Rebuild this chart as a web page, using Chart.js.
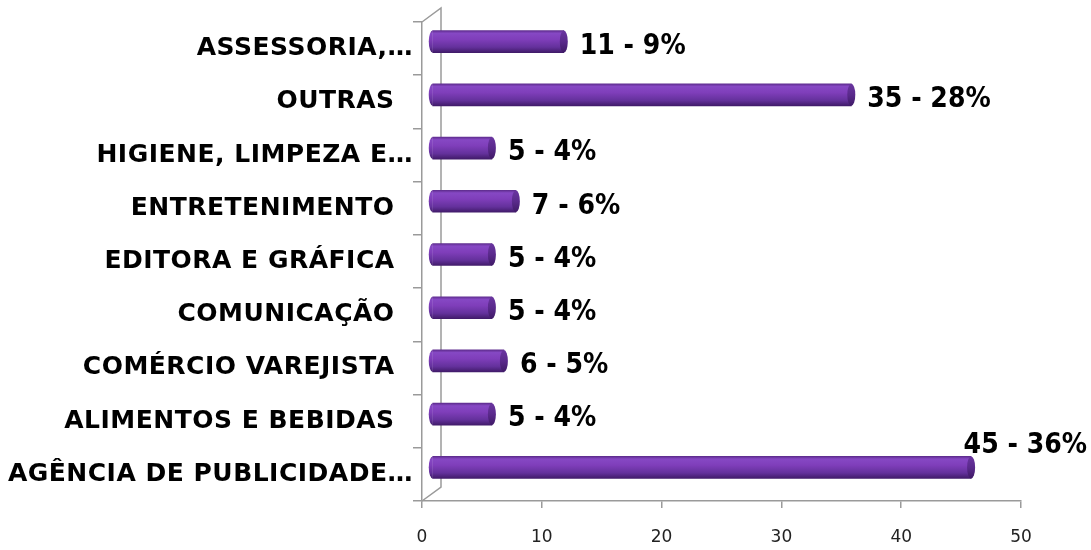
<!DOCTYPE html>
<html>
<head>
<meta charset="utf-8">
<script src="https://cdn.jsdelivr.net/npm/chart.js@4.4.1/dist/chart.umd.min.js"></script>
<style>
  html, body { margin: 0; padding: 0; background: #fff; }
  canvas { display: block; }
</style>
</head>
<body>
<canvas id="c" width="1091" height="550"></canvas>
<script>
const categories = ['ASSESSORIA,…', 'OUTRAS  ', 'HIGIENE, LIMPEZA E…', 'ENTRETENIMENTO  ', 'EDITORA E GRÁFICA  ', 'COMUNICAÇÃO  ', 'COMÉRCIO VAREJISTA  ', 'ALIMENTOS E BEBIDAS  ', 'AGÊNCIA DE PUBLICIDADE…'];
const counts = [11, 35, 5, 7, 5, 5, 6, 5, 45];
const percents = [9, 28, 4, 6, 4, 4, 5, 4, 36];
const xTicks = [0, 10, 20, 30, 40, 50];

const DX = 10, DY = -7, BAR_H = 22, RX = 4;
const FONT = '"DejaVu Sans", Verdana, sans-serif';

function barGradient(ctx, yc) {
  if (!isFinite(yc)) return '#7030a0';
  const g = ctx.createLinearGradient(0, yc - BAR_H / 2, 0, yc + BAR_H / 2);
  g.addColorStop(0, '#5f2d8f');
  g.addColorStop(0.12, '#8648c4');
  g.addColorStop(0.4, '#7f3eba');
  g.addColorStop(0.75, '#64319c');
  g.addColorStop(1, '#411b6a');
  return g;
}

const depthPlugin = {
  id: 'depth',
  beforeDraw(chart) {
    chart.ctx.letterSpacing = '0.5px';
  },
  beforeDatasetsDraw(chart) {
    const ctx = chart.ctx, a = chart.chartArea;
    ctx.letterSpacing = '0px';
    ctx.save();
    ctx.strokeStyle = '#9a9a9a';
    ctx.lineWidth = 1.5;
    const bx = a.left + 19, by = -14;
    ctx.beginPath();
    ctx.moveTo(a.left, a.top); ctx.lineTo(bx, a.top + by);
    ctx.lineTo(bx, a.bottom + by); ctx.lineTo(a.left, a.bottom);
    ctx.stroke();
    ctx.restore();
    ctx.save();
    ctx.translate(DX, DY);
  },
  afterDatasetsDraw(chart) {
    const ctx = chart.ctx;
    const meta = chart.getDatasetMeta(0);
    meta.data.forEach((bar, i) => {
      const yc = bar.y, x0 = bar.base, x1 = bar.x;
      ctx.beginPath();
      ctx.ellipse(x0, yc, RX, BAR_H / 2, 0, Math.PI / 2, Math.PI * 1.5);
      ctx.closePath();
      ctx.fillStyle = barGradient(ctx, yc);
      ctx.fill();
      ctx.beginPath();
      ctx.ellipse(x1, yc, RX, BAR_H / 2, 0, 0, Math.PI * 2);
      const g = ctx.createLinearGradient(0, yc - BAR_H / 2, 0, yc + BAR_H / 2);
      g.addColorStop(0, '#6a35a0');
      g.addColorStop(0.5, '#5a2a8c');
      g.addColorStop(1, '#3f1a66');
      ctx.fillStyle = g;
      ctx.fill();
    });
    ctx.restore();
    ctx.save();
    ctx.font = 'bold 28px ' + FONT;
    ctx.fillStyle = '#000';
    ctx.textBaseline = 'middle';
    ctx.textAlign = 'left';
    const SX = 0.9;
    meta.data.forEach((bar, i) => {
      const txt = counts[i] + ' - ' + percents[i] + '%';
      const w = ctx.measureText(txt).width * SX;
      let x = bar.x + DX + RX + 12;
      let y = bar.y + DY + 5;
      if (x + w > chart.width - 4) {
        x = chart.width - 4 - w;
        y = bar.y + DY - 22;
      }
      ctx.save();
      ctx.translate(x, y);
      ctx.scale(SX, 1);
      ctx.fillText(txt, 0, 0);
      ctx.restore();
    });
    ctx.restore();
  }
};

new Chart(document.getElementById('c'), {
  type: 'bar',
  data: {
    labels: categories,
    datasets: [{
      data: counts,
      barThickness: BAR_H,
      borderWidth: 0,
      backgroundColor: (c) => {
        const ch = c.chart;
        if (!ch.scales || !ch.scales.y || !ch.chartArea) return '#7030a0';
        const yc = ch.scales.y.getPixelForValue(c.dataIndex);
        return barGradient(ch.ctx, yc);
      }
    }]
  },
  options: {
    indexAxis: 'y',
    responsive: false,
    devicePixelRatio: 1,
    animation: false,
    layout: { padding: { top: 22, right: 70, left: 0, bottom: 0 } },
    plugins: { legend: { display: false }, tooltip: { enabled: false } },
    scales: {
      x: {
        min: 0, max: 50,
        afterBuildTicks: (s) => { s.ticks = xTicks.map(v => ({ value: v })); },
        afterFit: (s) => { s.height = 49; },
        grid: { display: true, drawOnChartArea: false, tickLength: 7, color: '#9a9a9a', lineWidth: 1.5 },
        border: { display: true, color: '#9a9a9a', width: 1.5 },
        ticks: { color: '#222', font: { family: FONT, size: 17 }, padding: 19, z: 1 }
      },
      y: {
        afterFit: (s) => { s.width = 422; },
        grid: { display: true, drawOnChartArea: false, tickLength: 9, color: '#9a9a9a', lineWidth: 1.5, offset: true },
        border: { display: true, color: '#9a9a9a', width: 1.5 },
        ticks: { color: '#000', font: { family: FONT, size: 25, weight: 'bold' }, padding: 0 }
      }
    }
  },
  plugins: [depthPlugin]
});
</script>
</body>
</html>
